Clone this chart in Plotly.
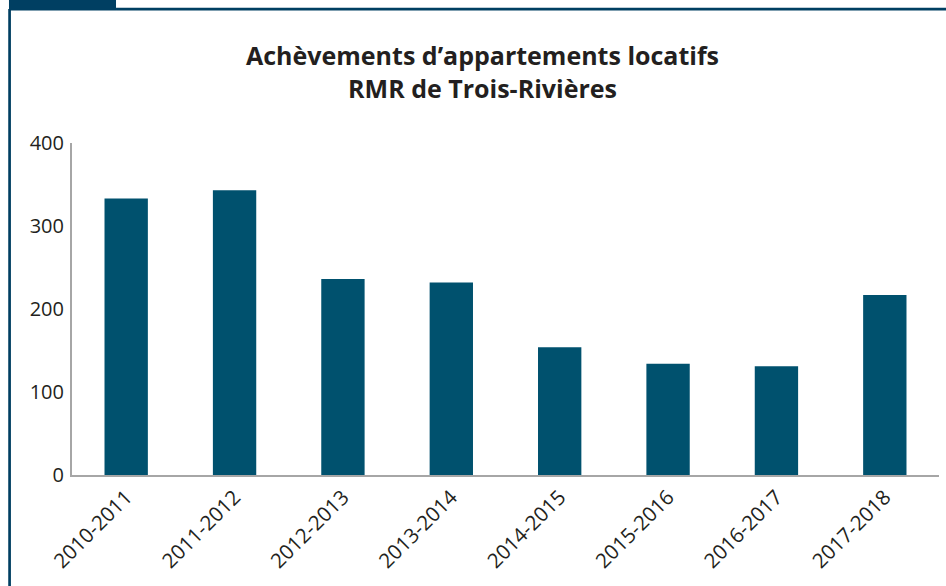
import plotly.graph_objects as go

categories = ["2010-2011", "2011-2012", "2012-2013", "2013-2014",
              "2014-2015", "2015-2016", "2016-2017", "2017-2018"]
values = [333, 343, 236, 232, 154, 134, 131, 217]
y_ticks = [0, 100, 200, 300, 400]

W, H = 946, 586
L, R, T, B = 72, 7.3, 143, 111.3
PW, PH = W - L - R, H - T - B

def px(x):
    return (x - L) / PW

def py(y):
    return (H - B - y) / PH

BAR = "#00516E"
DARK = "#003F62"
FONT = "'Open Sans', Lato, sans-serif"

fig = go.Figure(go.Bar(x=categories, y=values, marker_color=BAR,
                       marker_line_width=0))

shapes = [
    dict(type="rect", xref="paper", yref="paper", x0=px(9), x1=px(116),
         y0=py(0), y1=py(10.5), fillcolor=DARK, line_width=0, layer="above"),
    dict(type="line", xref="paper", yref="paper", x0=px(116), x1=px(946),
         y0=py(9.3), y1=py(9.3), line=dict(color=DARK, width=2.7)),
    dict(type="line", xref="paper", yref="paper", x0=px(9.6), x1=px(9.6),
         y0=py(9), y1=py(586), line=dict(color=DARK, width=2.7)),
]

fig.update_layout(
    width=W, height=H,
    margin=dict(l=L, r=R, t=T, b=B, pad=0),
    paper_bgcolor="white", plot_bgcolor="white",
    bargap=0.6,
    showlegend=False,
    shapes=shapes,
    font=dict(family=FONT, color="#231F20", size=20),
    annotations=[dict(
        text="<b>Achèvements d’appartements locatifs<br>RMR de Trois-Rivières</b>",
        xref="paper", yref="paper", x=px(482), y=py(72), xanchor="center",
        yanchor="middle", showarrow=False,
        font=dict(family=FONT, size=25, color="#231F20"))],
)
fig.update_xaxes(showline=True, linecolor="#A6A6A6", linewidth=2,
                 ticks="", tickangle=-45, tickfont=dict(size=20.5),
                 showgrid=False)
fig.update_yaxes(range=[0, 400], tickvals=y_ticks, showline=True,
                 linecolor="#A6A6A6", linewidth=2, ticks="",
                 showgrid=False, zeroline=False, tickfont=dict(size=20),
                 ticklabelstandoff=2)

fig.write_html("out.html", config={"displayModeBar": False},
               post_script="document.body.style.margin='0';document.body.style.padding='0';")
